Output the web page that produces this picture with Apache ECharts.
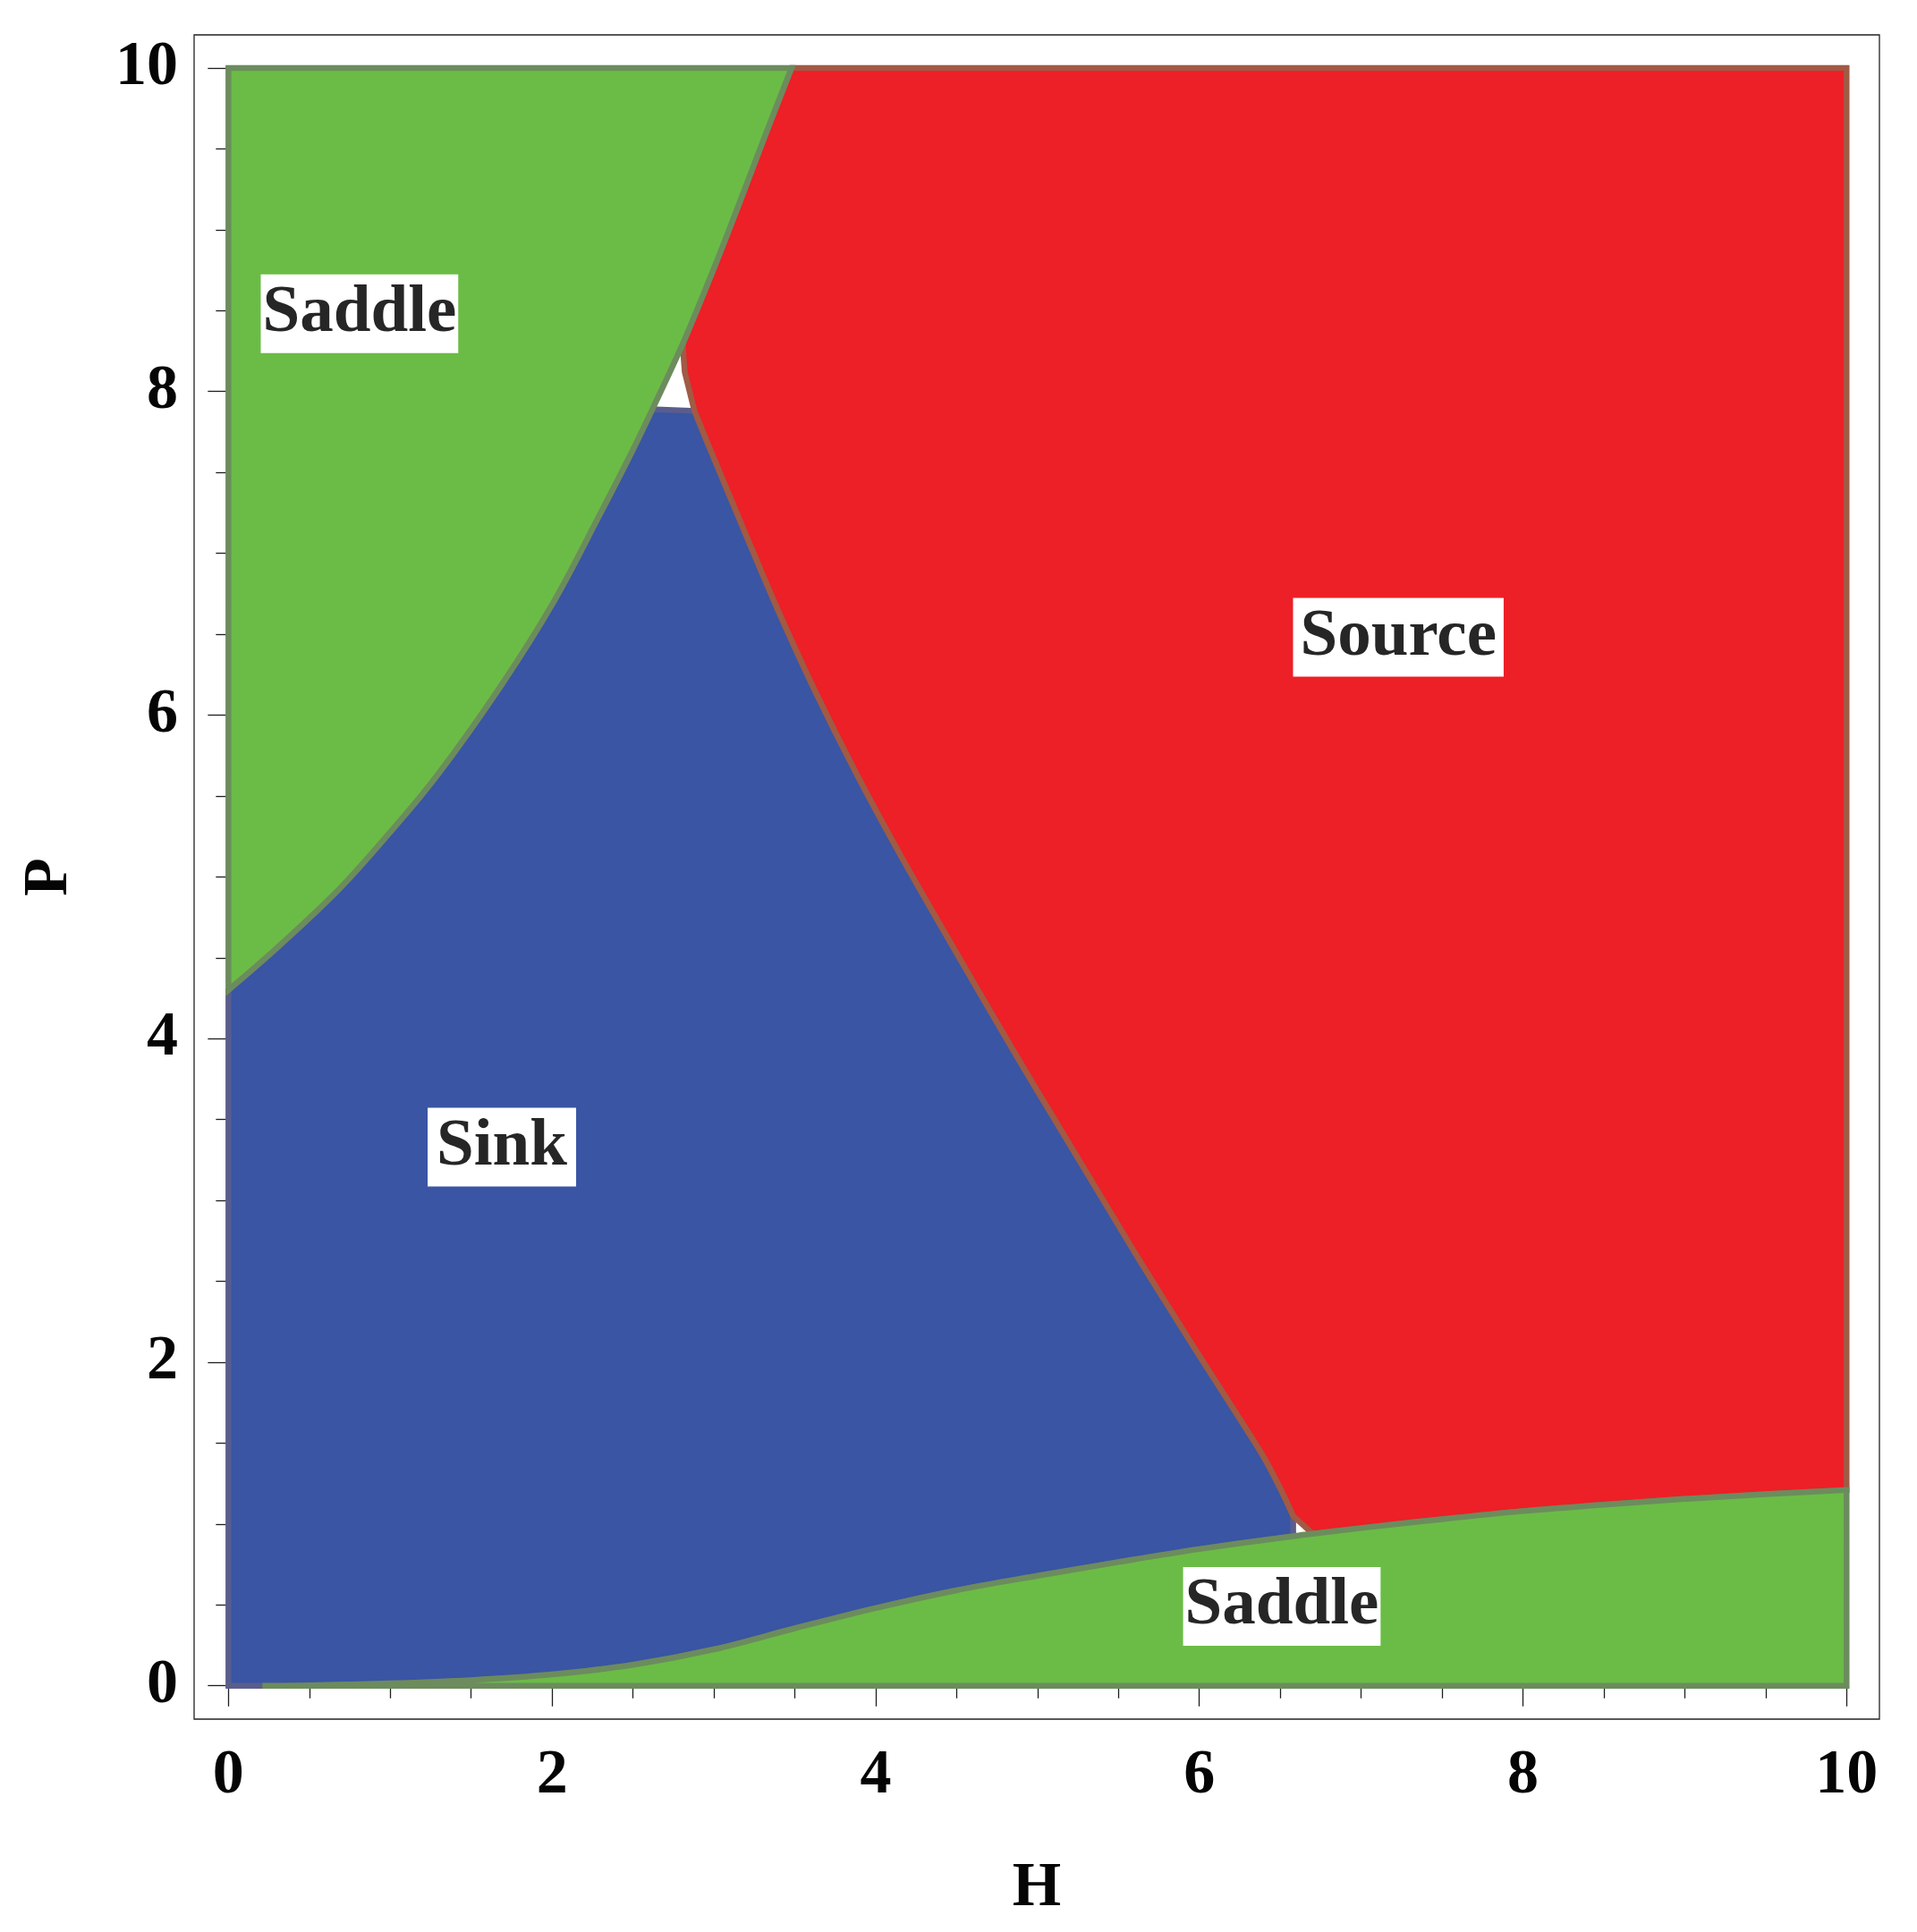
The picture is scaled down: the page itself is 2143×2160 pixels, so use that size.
<!DOCTYPE html>
<html>
<head>
<meta charset="utf-8">
<script src="https://cdn.jsdelivr.net/npm/echarts@6/dist/echarts.min.js"></script>
<style>
html,body{margin:0;padding:0;background:#fff;}
#chart{width:2143px;height:2160px;}
</style>
</head>
<body>
<div id="chart"></div>
<script>
// ---- Data ----
const xMajorTicks = [0, 2, 4, 6, 8, 10];
const xMinorTicks = [0.5, 1, 1.5, 2.5, 3, 3.5, 4.5, 5, 5.5, 6.5, 7, 7.5, 8.5, 9, 9.5];
const yMajorTicks = [0, 2, 4, 6, 8, 10];
const yMinorTicks = [0.5, 1, 1.5, 2.5, 3, 3.5, 4.5, 5, 5.5, 6.5, 7, 7.5, 8.5, 9, 9.5];

// boundary between the upper Saddle region and Sink / Source (H, P)
const upperSaddleEdge = [[0,4.30],[0.31,4.57],[0.69,4.93],[1.02,5.30],[1.30,5.64],[1.69,6.19],[2.01,6.70],[2.28,7.21],[2.48,7.60],[2.62,7.89],[2.81,8.30],[3.00,8.76],[3.16,9.17],[3.32,9.59],[3.48,10]];
// boundary between Sink and Source
const sinkSourceEdge = [[2.81,8.25],[2.82,8.12],[2.88,7.88],[2.97,7.66],[3.20,7.11],[3.40,6.64],[3.62,6.16],[3.88,5.64],[4.15,5.14],[4.43,4.65],[4.65,4.27],[4.89,3.86],[5.07,3.56],[5.35,3.095],[5.64,2.615],[5.94,2.135],[6.09,1.90],[6.25,1.65],[6.40,1.41],[6.51,1.20],[6.58,1.05]];
// top boundary of the lower Saddle region
const lowerSaddleEdge = [[0.21,0],[0.5,0.003],[1.0,0.015],[1.5,0.035],[2.0,0.07],[2.5,0.13],[3.0,0.225],[3.5,0.355],[4.0,0.48],[4.5,0.59],[5.0,0.68],[5.5,0.765],[6.0,0.845],[6.58,0.925],[6.70,0.94],[7.0,0.975],[7.5,1.03],[8.0,1.08],[8.5,1.12],[9.0,1.155],[9.5,1.185],[10,1.21]];

const regionLabels = ['Saddle', 'Source', 'Sink', 'Saddle'];
const labelPositions = [[0.81,8.48],[7.23,6.48],[1.69,3.33],[6.51,0.49]];

// ---- Region outlines built from the edges (straight pieces and smooth curve pieces) ----
const sinkPieces = [
  {pts: [[0,0],[0,4.30]]},
  {pts: upperSaddleEdge.filter(p => p[1] <= 7.89), smooth: true},
  {pts: sinkSourceEdge.filter(p => p[1] <= 7.88), smooth: true},
  {pts: lowerSaddleEdge.filter(p => p[0] <= 6.58).slice().reverse(), smooth: true}
];
const sourcePieces = [
  {pts: [[3.48,10],[10,10],[10,1.21]]},
  {pts: lowerSaddleEdge.filter(p => p[0] >= 6.70).slice().reverse(), smooth: true},
  {pts: sinkSourceEdge.filter(p => p[1] <= 7.88).slice().reverse(), smooth: true},
  {pts: sinkSourceEdge.filter(p => p[1] > 7.88).slice().reverse()},
  {pts: upperSaddleEdge.filter(p => p[1] >= 8.30), smooth: true}
];
const saddleTopPieces = [
  {pts: [[0,4.30],[0,10],[3.48,10]]},
  {pts: upperSaddleEdge.slice().reverse(), smooth: true}
];
const saddleBottomPieces = [
  {pts: lowerSaddleEdge, smooth: true},
  {pts: [[10,0]]}
];

const regions = [
  {name:'Sink', pieces: sinkPieces, fill:'#3955A4', stroke:'#5A5D8C'},
  {name:'Source', pieces: sourcePieces, fill:'#ED1F27', stroke:'#A15A44'},
  {name:'SaddleTop', pieces: saddleTopPieces, fill:'#6BBC46', stroke:'#6C8C5D'},
  {name:'SaddleBottom', pieces: saddleBottomPieces, fill:'#6BBC46', stroke:'#6C8C5D'}
];

const FONT = 'Liberation Serif';
const tickColor = '#1e1e1e';
const XMIN = -0.212, XMAX = 10.203, YMIN = -0.206, YMAX = 10.204;

function axisPair(dim, pos, withLabel) {
  const major = dim === 'x' ? xMajorTicks : yMajorTicks;
  const minor = dim === 'x' ? xMinorTicks : yMinorTicks;
  const mn = dim === 'x' ? XMIN : YMIN, mx = dim === 'x' ? XMAX : YMAX;
  const base = {
    type:'value', position: pos, min: mn, max: mx,
    axisLine:{show:false}, splitLine:{show:false}
  };
  const a = Object.assign({}, base, {
    axisTick:{show:true, inside:true, length:23, customValues: major, lineStyle:{color:tickColor, width:1.3}},
    axisLabel: withLabel ? {show:true, customValues: major, margin: dim === 'x' ? 29 : 18,
      fontFamily:FONT, fontWeight:'bold', fontSize:70, color:'#050505'} : {show:false}
  });
  const b = Object.assign({}, base, {
    axisTick:{show:true, inside:true, length:14, customValues: minor, lineStyle:{color:tickColor, width:1.3}},
    axisLabel:{show:false}
  });
  if (withLabel) {
    a.name = dim === 'x' ? 'H' : 'P';
    a.nameLocation = 'middle';
    a.nameGap = dim === 'x' ? 155 : 126;
    a.nameTextStyle = {fontFamily:FONT, fontWeight:'bold', fontSize:70, color:'#050505'};
  }
  return [a, b];
}

// Catmull-Rom style smoothing of pixel points for the curved edges
function buildPath(pieces, api) {
  let d = '';
  let first = true;
  const f = v => v.toFixed(2);
  pieces.forEach(pc => {
    const P = pc.pts.map(p => api.coord(p));
    d += (first ? 'M' : 'L') + f(P[0][0]) + ' ' + f(P[0][1]);
    first = false;
    if (pc.smooth) {
      for (let i = 0; i < P.length - 1; i++) {
        const p0 = P[i - 1] || P[i], p1 = P[i], p2 = P[i + 1], p3 = P[i + 2] || P[i + 1];
        const c1 = [p1[0] + (p2[0] - p0[0]) / 6, p1[1] + (p2[1] - p0[1]) / 6];
        const c2 = [p2[0] - (p3[0] - p1[0]) / 6, p2[1] - (p3[1] - p1[1]) / 6];
        d += 'C' + f(c1[0]) + ' ' + f(c1[1]) + ' ' + f(c2[0]) + ' ' + f(c2[1]) + ' ' + f(p2[0]) + ' ' + f(p2[1]);
      }
    } else {
      for (let i = 1; i < P.length; i++) d += 'L' + f(P[i][0]) + ' ' + f(P[i][1]);
    }
  });
  return d + 'Z';
}

const chart = echarts.init(document.getElementById('chart'), null, {renderer:'canvas'});

const series = regions.map((r, i) => ({
  type:'custom',
  name: r.name,
  coordinateSystem:'cartesian2d',
  xAxisIndex:0, yAxisIndex:0,
  silent:true,
  z: 2 + i,
  data: r.pieces[0].pts,
  renderItem: function (params, api) {
    if (params.dataIndex !== 0) return null;
    return {
      type:'path',
      shape:{pathData: buildPath(r.pieces, api)},
      style:{fill: r.fill, stroke: r.stroke, lineWidth: 6.5, lineJoin:'miter'}
    };
  }
}));

const labelPads = [[4,2,4,2],[4,8,4,8],[4,10,4,10],[4,2,4,2]];
series.push({
  type:'scatter',
  xAxisIndex:0, yAxisIndex:0,
  silent:true,
  z: 10,
  symbolSize: 0,
  itemStyle:{opacity:1},
  emphasis:{disabled:true},
  data: labelPositions.map((p, i) => ({
    value: [p[0], p[1]],
    label: {padding: labelPads[i]},
    name: regionLabels[i]
  })),
  label:{
    show:true, position:'inside',
    formatter: p => p.name,
    fontFamily: FONT, fontWeight:'bold', fontSize:75, color:'#262626',
    backgroundColor:'#ffffff', lineHeight:80, opacity:1
  }
});

chart.setOption({
  animation:false,
  backgroundColor:'#ffffff',
  grid:{left:217, top:39, right:42, bottom:238, show:true, borderColor:'#222222', borderWidth:1.3, backgroundColor:'transparent'},
  xAxis: axisPair('x','bottom',true).concat(axisPair('x','top',false)),
  yAxis: axisPair('y','left',true).concat(axisPair('y','right',false)),
  series: series
});
</script>
</body>
</html>
